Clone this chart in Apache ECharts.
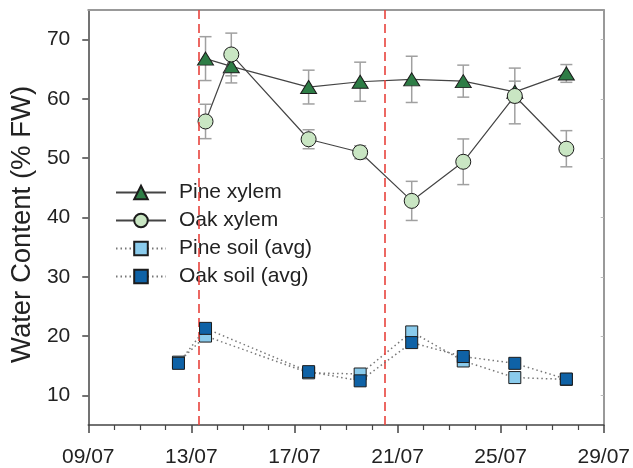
<!DOCTYPE html>
<html>
<head>
<meta charset="utf-8">
<script src="https://cdn.jsdelivr.net/npm/echarts@6/dist/echarts.min.js"></script>
<style>html,body{margin:0;padding:0;background:#fff}#c{width:633px;height:468px}</style>
</head>
<body>
<div id="c"></div>
<script>
// ---- data (x = day of July) ----
var xylemDays = [13.55, 14.55, 17.55, 19.55, 21.55, 23.55, 25.55, 27.55];
var soilDays = [12.5, 13.55, 17.55, 19.55, 21.55, 23.55, 25.55, 27.55];
var pineXylem = [66.8, 65.5, 62.0, 62.9, 63.3, 63.0, 61.2, 64.3];
var pineXylemErr = [3.7, 2.8, 2.85, 3.3, 3.9, 2.7, 1.8, 1.5];
var oakXylem = [56.2, 67.5, 53.2, 51.0, 42.8, 49.4, 60.5, 51.6];
var oakXylemErr = [2.9, 3.6, 1.6, 1.1, 3.3, 3.85, 4.7, 3.05];
var pineSoil = [15.6, 20.0, 13.8, 13.6, 20.7, 15.8, 13.0, 12.7];
var oakSoil = [15.4, 21.3, 14.0, 12.45, 18.9, 16.55, 15.4, 12.75];
var treatmentDays = [13.3, 20.5];
var yTicks = [10, 20, 30, 40, 50, 60, 70];
var seriesNames = ['Pine xylem', 'Oak xylem', 'Pine soil (avg)', 'Oak soil (avg)'];
var monthSuffix = '/07';

function pairs(xs, ys) { return xs.map(function (x, i) { return [x, ys[i]]; }); }
function errs(xs, ys, es) { return xs.map(function (x, i) { return [x, ys[i] - es[i], ys[i] + es[i]]; }); }

var FONT = 'Liberation Sans, Arial, sans-serif';

function errRender(params, api) {
  var x = api.value(0);
  var lo = api.coord([x, api.value(1)]);
  var hi = api.coord([x, api.value(2)]);
  var w = 6;
  var st = { stroke: '#a0a0a0', lineWidth: 1.5 };
  return {
    type: 'group',
    children: [
      { type: 'line', shape: { x1: lo[0], y1: lo[1], x2: hi[0], y2: hi[1] }, style: st },
      { type: 'line', shape: { x1: lo[0] - w, y1: lo[1], x2: lo[0] + w, y2: lo[1] }, style: st },
      { type: 'line', shape: { x1: hi[0] - w, y1: hi[1], x2: hi[0] + w, y2: hi[1] }, style: st }
    ]
  };
}

var chart = echarts.init(document.getElementById('c'), null, { renderer: 'canvas' });
chart.setOption({
  animation: false,
  backgroundColor: '#fff',
  textStyle: { fontFamily: FONT },
  grid: { left: 87, right: 27, top: 10, bottom: 42 },
  legend: {
    data: seriesNames,
    orient: 'vertical',
    left: 105, top: 165,
    padding: [17, 10, 10, 10],
    backgroundColor: '#fff',
    itemWidth: 50, itemHeight: 17, itemGap: 7,
    textStyle: { fontSize: 21, color: '#222', fontFamily: FONT, padding: [0, 0, 0, 8] }
  },
  xAxis: [{
    type: 'value', min: 9, max: 29, interval: 4,
    axisLine: { lineStyle: { color: '#444', width: 1.5 } },
    axisTick: { length: 8, lineStyle: { color: '#444', width: 1.5 } },
    minorTick: { show: true, splitNumber: 4, length: 5, lineStyle: { color: '#444', width: 1.2 } },
    splitLine: { show: false },
    axisLabel: {
      fontSize: 21, color: '#222', margin: 22, fontFamily: FONT,
      formatter: function (v) { var d = Math.round(v); return (d < 10 ? '0' + d : '' + d) + monthSuffix; }
    }
  }, {
    type: 'value', position: 'top', min: 9, max: 29, interval: 4,
    axisLine: { show: true, lineStyle: { color: '#999', width: 2 } },
    axisTick: { show: false }, axisLabel: { show: false }, splitLine: { show: false }
  }],
  yAxis: [{
    type: 'value', min: 5, max: 75,
    name: 'Water Content (% FW)', nameLocation: 'middle', nameGap: 43,
    nameTextStyle: { fontSize: 27.5, color: '#222', fontFamily: FONT, padding: [0, 14, 0, 0] },
    axisLine: { show: true, lineStyle: { color: '#444', width: 1.5 } },
    axisTick: { show: true, length: 6, customValues: yTicks, lineStyle: { color: '#444', width: 1.5 } },
    axisLabel: { fontSize: 21, color: '#222', margin: 18, customValues: yTicks, fontFamily: FONT },
    splitLine: { show: false }
  }, {
    type: 'value', position: 'right', min: 5, max: 75,
    axisLine: { show: true, lineStyle: { color: '#999', width: 2 } },
    axisTick: { show: true, inside: true, length: 3, customValues: yTicks, lineStyle: { color: '#bbb' } },
    axisLabel: { show: false }, splitLine: { show: false }
  }],
  series: [
    {
      type: 'custom', name: 'pineErr', renderItem: errRender, z: 1, silent: true,
      data: errs(xylemDays, pineXylem, pineXylemErr)
    },
    {
      type: 'custom', name: 'oakErr', renderItem: errRender, z: 1, silent: true,
      data: errs(xylemDays, oakXylem, oakXylemErr)
    },
    {
      name: seriesNames[0], type: 'line', z: 2,
      data: pairs(xylemDays, pineXylem),
      symbol: 'triangle', symbolSize: [16, 13],
      lineStyle: { color: '#444', width: 1.2 },
      itemStyle: { color: '#2e7d46', borderColor: '#1c1c1c', borderWidth: 1 },
      markLine: {
        silent: true, symbol: 'none', label: { show: false },
        lineStyle: { color: '#e8433c', width: 1.6, type: [9, 5] },
        data: treatmentDays.map(function (d) { return { xAxis: d }; })
      }
    },
    {
      name: seriesNames[1], type: 'line', z: 3,
      data: pairs(xylemDays, oakXylem),
      symbol: 'circle', symbolSize: 15,
      lineStyle: { color: '#444', width: 1.2 },
      itemStyle: { color: '#c9e6c3', borderColor: '#1c1c1c', borderWidth: 1 }
    },
    {
      name: seriesNames[2], type: 'line', z: 4,
      data: pairs(soilDays, pineSoil),
      symbol: 'rect', symbolSize: 12,
      lineStyle: { color: '#777', width: 1.5, type: [1.5, 3] },
      itemStyle: { color: '#8acbec', borderColor: '#1c1c1c', borderWidth: 1 }
    },
    {
      name: seriesNames[3], type: 'line', z: 5,
      data: pairs(soilDays, oakSoil),
      symbol: 'rect', symbolSize: 12,
      lineStyle: { color: '#777', width: 1.5, type: [1.5, 3] },
      itemStyle: { color: '#0f62a6', borderColor: '#1c1c1c', borderWidth: 1 }
    }
  ]
});
</script>
</body>
</html>
